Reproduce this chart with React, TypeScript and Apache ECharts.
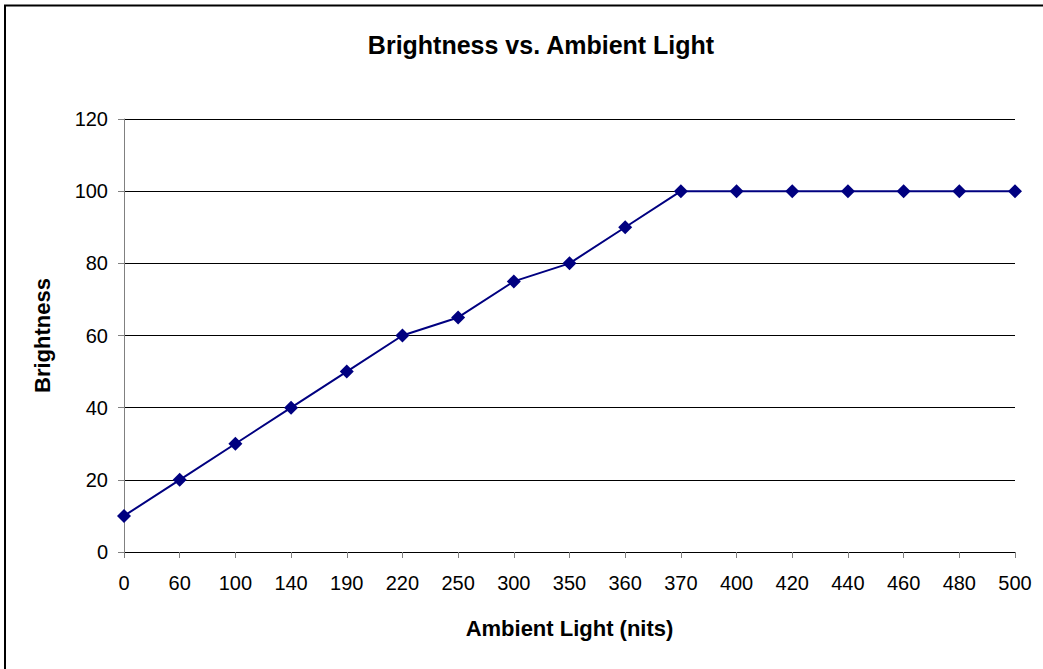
import React, { useEffect, useRef } from "react";
import * as echarts from "echarts";

const categories = ["0", "60", "100", "140", "190", "220", "250", "300", "350", "360", "370", "400", "420", "440", "460", "480", "500"];
const brightness = [10, 20, 30, 40, 50, 60, 65, 75, 80, 90, 100, 100, 100, 100, 100, 100, 100];
const titleText = "Brightness vs. Ambient Light";
const xName = "Ambient Light (nits)";
const yName = "Brightness";

const FONT = "'Liberation Sans', Arial, sans-serif";

export default function App() {
  const ref = useRef<HTMLDivElement>(null);
  useEffect(() => {
    if (!ref.current) return;
    const chart = echarts.init(ref.current, null, { renderer: "svg" });
    chart.setOption({
      animation: false,
      backgroundColor: "#ffffff",
      textStyle: { fontFamily: FONT },
      graphic: [
        {
          type: "rect",
          shape: { x: 5, y: 5.5, width: 1200, height: 800 },
          style: { fill: "none", stroke: "#000000", lineWidth: 2 },
          silent: true,
        },
        {
          type: "text",
          x: 541,
          y: 45,
          style: {
            text: titleText,
            fontFamily: FONT,
            fontSize: 25,
            fontWeight: "bold",
            fill: "#000000",
            textAlign: "center",
            textVerticalAlign: "middle",
          },
        },
      ],
      grid: { left: 124, right: 28, top: 119, bottom: 117, containLabel: false },
      xAxis: {
        type: "category",
        data: categories,
        boundaryGap: false,
        name: xName,
        nameLocation: "middle",
        nameGap: 65,
        nameTextStyle: { fontFamily: FONT, fontSize: 22, fontWeight: "bold", color: "#000" },
        axisLine: { show: true, lineStyle: { color: "#000000", width: 1 } },
        axisTick: { show: true, alignWithLabel: true, length: 6, lineStyle: { color: "#808080" } },
        axisLabel: { fontFamily: FONT, fontSize: 20, color: "#000", margin: 21, interval: 0 },
        splitLine: { show: false },
      },
      yAxis: {
        type: "value",
        min: 0,
        max: 120,
        interval: 20,
        name: yName,
        nameLocation: "middle",
        nameGap: 71,
        nameTextStyle: { fontFamily: FONT, fontSize: 22, fontWeight: "bold", color: "#000" },
        axisLine: { show: true, lineStyle: { color: "#808080", width: 1 } },
        axisTick: { show: true, length: 6, lineStyle: { color: "#808080" } },
        axisLabel: { fontFamily: FONT, fontSize: 20, color: "#000", margin: 16 },
        splitLine: { show: true, lineStyle: { color: "#000000", width: 1 } },
      },
      series: [
        {
          type: "line",
          data: brightness,
          symbol: "diamond",
          symbolSize: 14,
          lineStyle: { color: "#000080", width: 2 },
          itemStyle: { color: "#000080" },
        },
      ],
    });
    return () => chart.dispose();
  }, []);
  return (
    <div
      ref={ref}
      style={{ position: "fixed", left: 0, top: 0, width: 1043, height: 669 }}
    />
  );
}
